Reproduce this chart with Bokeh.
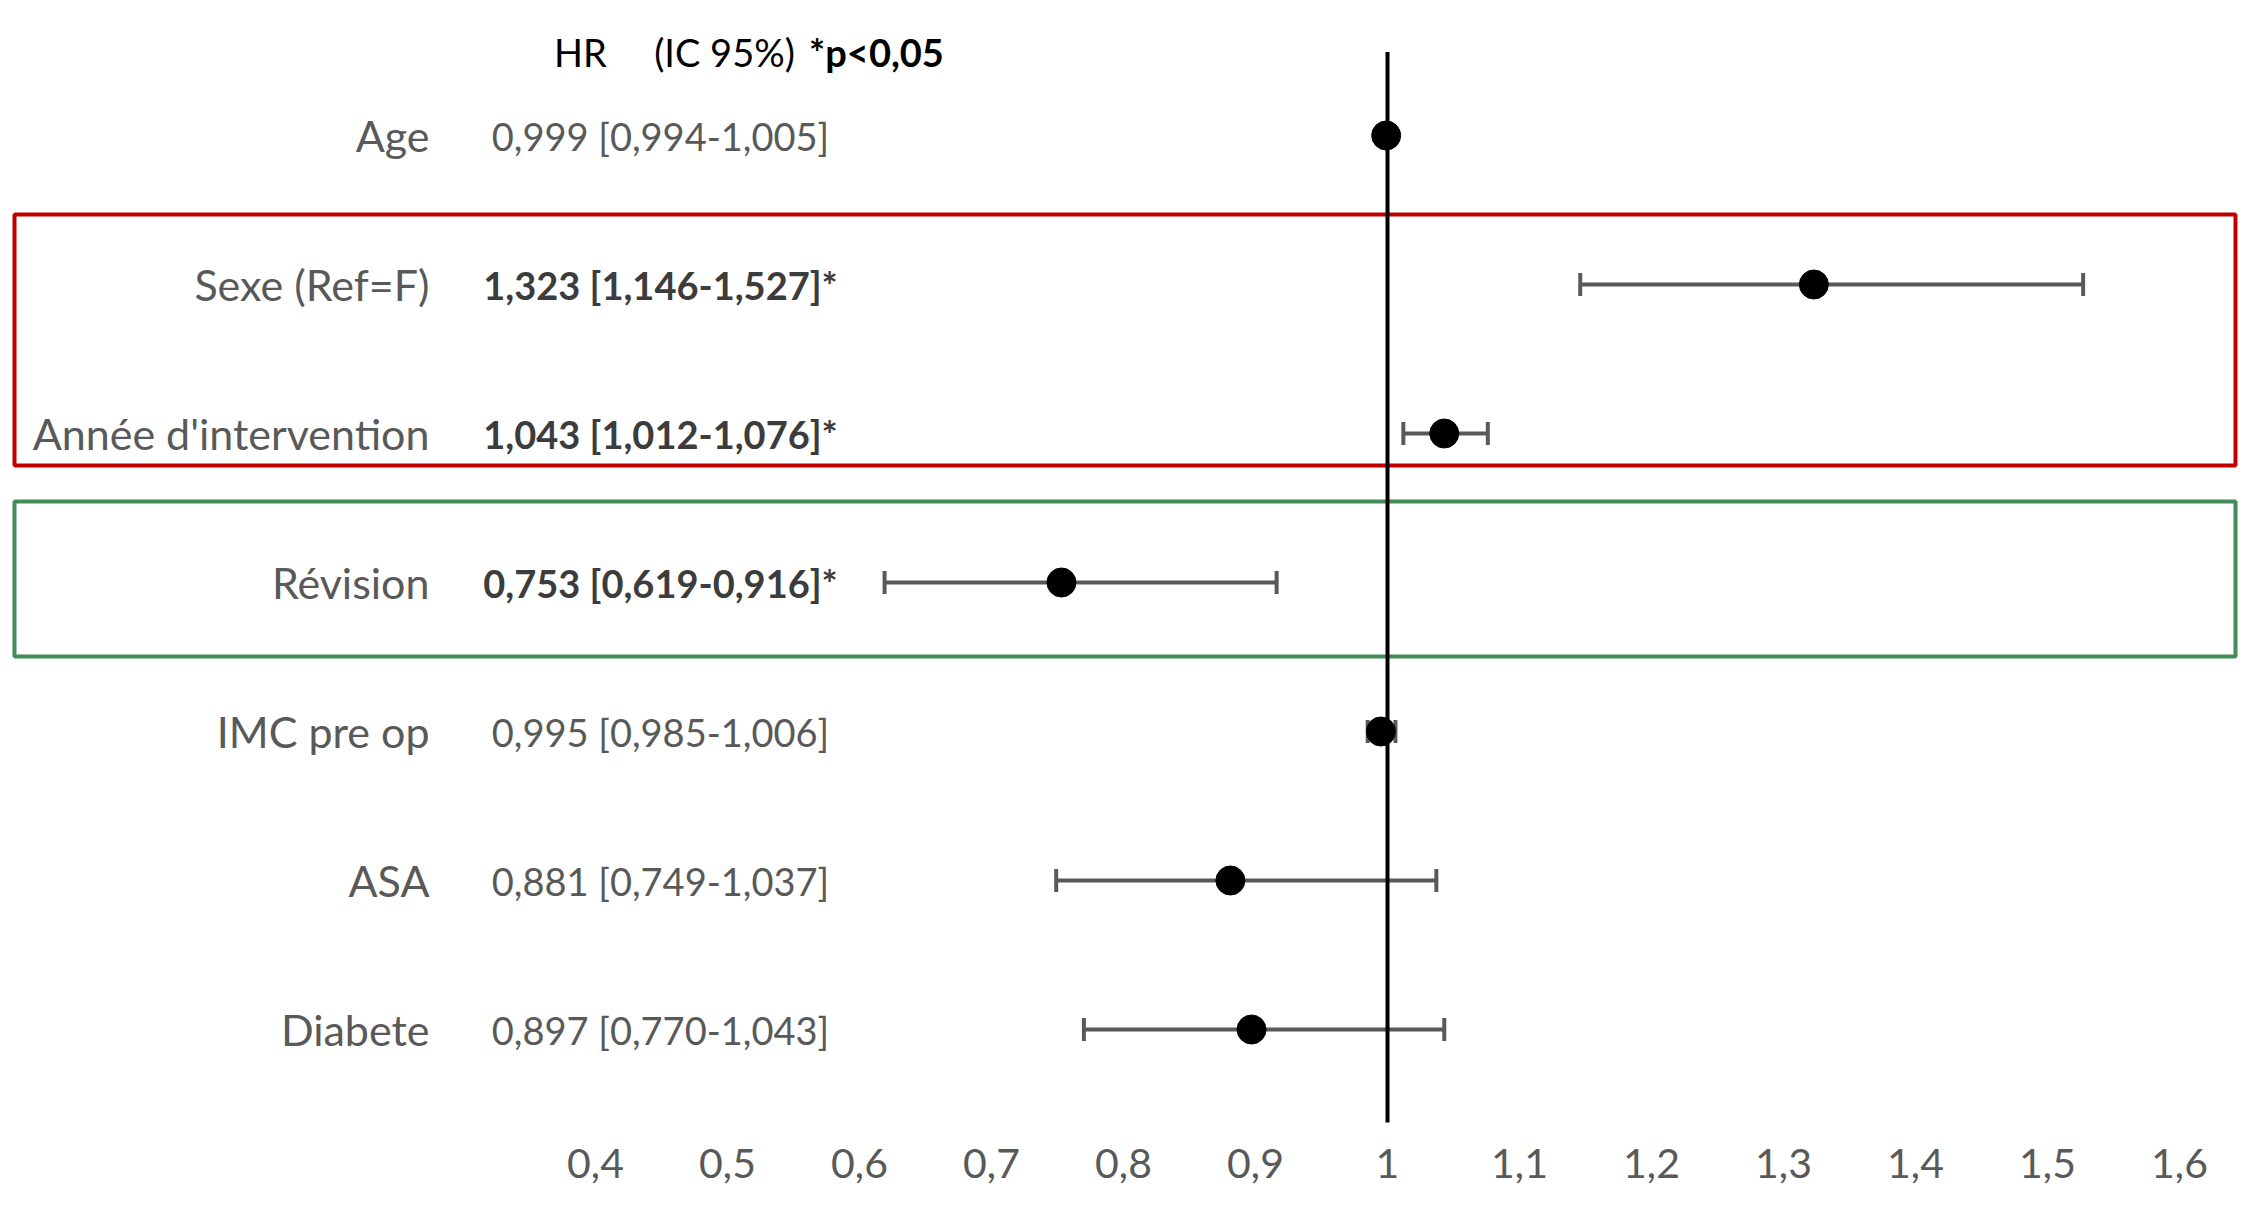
from bokeh.plotting import figure
from bokeh.models import (Range1d, FixedTicker, CustomJSTickFormatter, ColumnDataSource,
                          Whisker, TeeHead)
from bokeh.core.properties import value
from bokeh.embed import file_html
from bokeh.resources import INLINE

# ---------------- data ----------------
variables = ["Age", "Sexe (Ref=F)", "Année d'intervention", "Révision",
             "IMC pre op", "ASA", "Diabete"]
hr = [0.999, 1.323, 1.043, 0.753, 0.995, 0.881, 0.897]
ci_low = [0.994, 1.146, 1.012, 0.619, 0.985, 0.749, 0.770]
ci_high = [1.005, 1.527, 1.076, 0.916, 1.006, 1.037, 1.043]
significant = [False, True, True, True, False, False, False]
x_ticks = [0.4, 0.5, 0.6, 0.7, 0.8, 0.9, 1.0, 1.1, 1.2, 1.3, 1.4, 1.5, 1.6]
header_texts = ["HR", "(IC 95%)", "*p<0,05"]
header_bold = [False, False, True]
red_box_rows = ["Sexe (Ref=F)", "Année d'intervention"]
green_box_rows = ["Révision"]
reference_hr = 1.0

# ---------------- geometry ----------------
W, H = 2248, 1203
MARGIN = 0
BOTTOM = 81
X_ONE_PX = 1387      # px of HR = 1
PX_PER_UNIT = 1320
ROW0_PX = 135
ROW_STEP = 149

def px_to_x(s):
    return 1 + (s - X_ONE_PX) / PX_PER_UNIT

def px_to_row(s):
    return (s - ROW0_PX) / ROW_STEP

FONT = "Lato"
GRAY = "#595959"
DARK = "#3c3c3c"

def fr(v):
    return f"{v:.3f}".replace(".", ",")

rows = list(range(len(variables)))
value_txt = [f"{fr(h)} [{fr(l)}-{fr(u)}]" + ("*" if s else "")
             for h, l, u, s in zip(hr, ci_low, ci_high, significant)]

src = ColumnDataSource(dict(
    var=variables, y=rows, hr=hr, low=ci_low, high=ci_high, txt=value_txt,
    style=["bold" if s else "normal" for s in significant],
    col=[DARK if s else GRAY for s in significant],
))

p = figure(width=W, height=H, output_backend="svg", toolbar_location=None,
           x_range=Range1d(px_to_x(MARGIN), px_to_x(MARGIN + W)),
           y_range=Range1d(px_to_row(MARGIN + H - BOTTOM), px_to_row(MARGIN)),
           y_axis_location=None, min_border_left=0, min_border_right=0,
           min_border_top=0, min_border_bottom=BOTTOM)
p.xgrid.visible = False
p.ygrid.visible = False
p.outline_line_color = None

# x axis
ax = p.xaxis[0]
ax.ticker = FixedTicker(ticks=x_ticks)
ax.formatter = CustomJSTickFormatter(
    code="return (Math.round(tick*10)/10).toString().replace('.', ',');")
ax.axis_line_color = None
ax.major_tick_line_color = None
ax.minor_tick_line_color = None
ax.major_label_text_font = FONT
ax.major_label_text_font_size = "41px"
ax.major_label_text_color = GRAY
ax.major_label_standoff = 20

# highlight boxes
def box(rows_sel, pad_top, pad_bottom, color):
    idx = [variables.index(r) for r in rows_sel]
    p.quad(left=px_to_x(14), right=px_to_x(2235),
           top=min(idx) - pad_top, bottom=max(idx) + pad_bottom,
           fill_color=None, line_color=color, line_width=4)

box(red_box_rows, 0.47, 0.215, "#C00000")
box(green_box_rows, 0.544, 0.497, "#438B57")

# reference line
p.segment(x0=reference_hr, x1=reference_hr, y0=-0.56, y1=len(variables) - 1 + 0.69,
          line_color="black", line_width=4)

# CIs
wh = Whisker(source=src, base="y", lower="low", upper="high", dimension="width",
             line_color=GRAY, line_width=4,
             lower_head=TeeHead(size=23, line_color=GRAY, line_width=4),
             upper_head=TeeHead(size=23, line_color=GRAY, line_width=4))
p.add_layout(wh)

p.scatter(x="hr", y="y", source=src, size=29, color="black")

# row labels
p.text(x=px_to_x(429), y="y", text="var", source=src, text_align="right",
       text_baseline="middle", text_font=value(FONT), text_font_size="43px",
       text_color=GRAY)

# values
p.text(x=px_to_x(660), y="y", text="txt", source=src, text_align="center",
       text_baseline="middle", text_font=value(FONT), text_font_size="38px",
       text_color="col", text_font_style="style")

# header
hsrc = ColumnDataSource(dict(
    x=[px_to_x(580), px_to_x(724), px_to_x(876)],
    y=[px_to_row(51)] * 3,
    t=header_texts,
    st=["bold" if b else "normal" for b in header_bold],
))
p.text(x="x", y="y", text="t", source=hsrc, text_align="center",
       text_baseline="middle", text_font=value(FONT), text_font_size="38px",
       text_color="black", text_font_style="st")

open("out.html", "w").write(file_html(p, INLINE))
